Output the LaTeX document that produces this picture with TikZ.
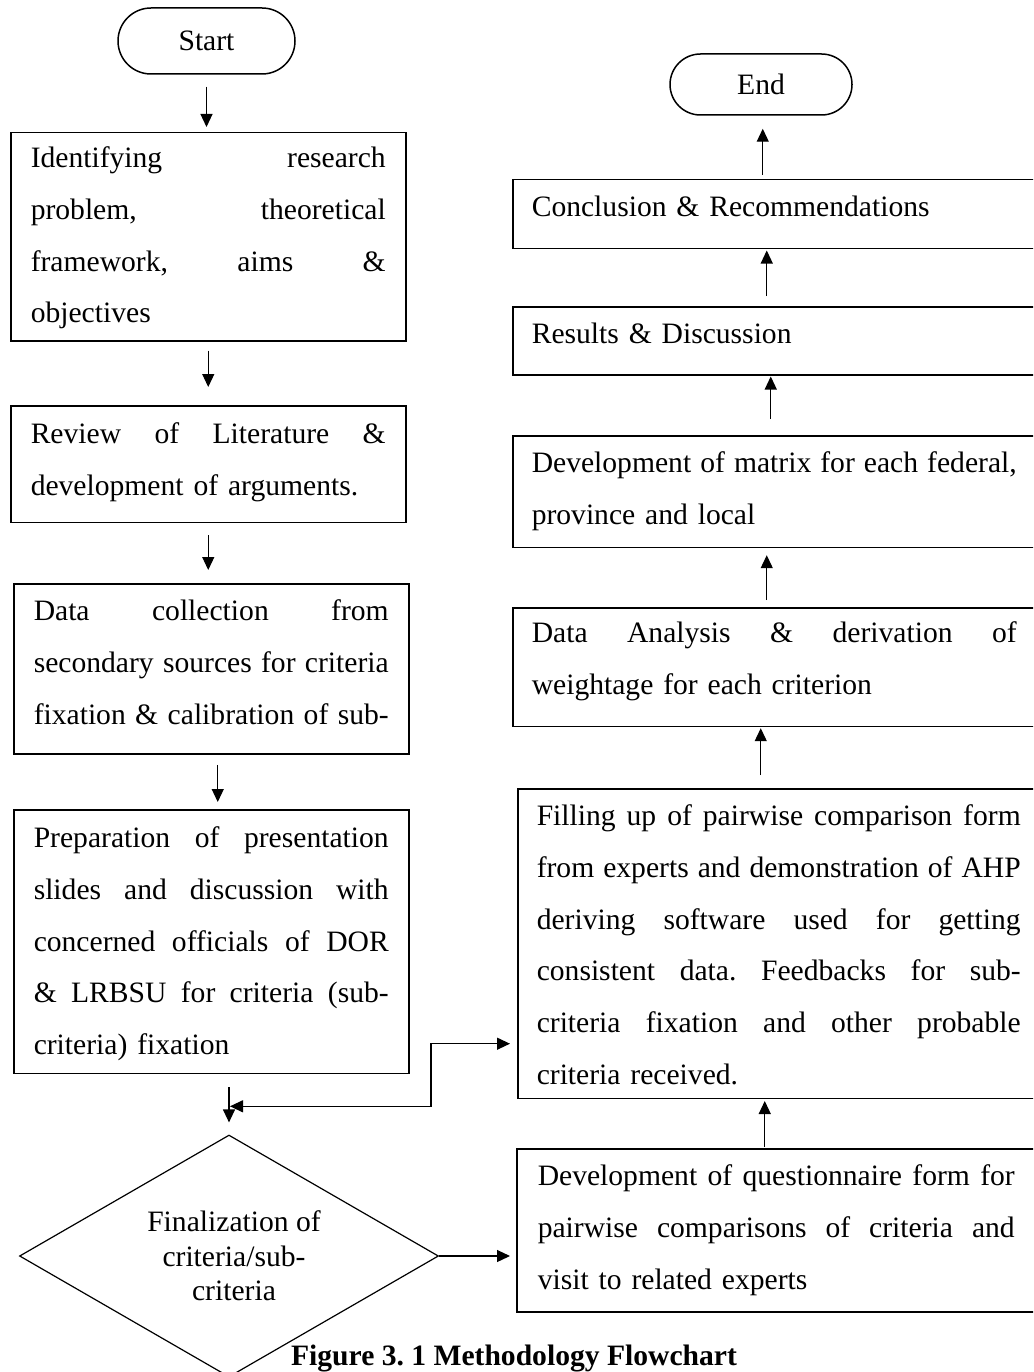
\documentclass[tikz,border=0pt]{standalone}
\usepackage{fontspec}
\setmainfont{Liberation Serif}
\usetikzlibrary{arrows.meta,shapes.geometric}
\setlength{\parindent}{0pt}
\frenchspacing
\newcommand\J[2]{\makebox[#1][s]{\spaceskip=0.25em plus 1fil minus 0.1em\relax #2}}
\newcommand\TS[1]{\rule{0pt}{#1pt}}
\newcommand\BS[1]{\rule[-#1pt]{0pt}{#1pt}}
\begin{document}
\begin{tikzpicture}[x=1pt,y=-1pt,
  >={Triangle[length=13pt,width=12pt]},
  every node/.style={font=\fontsize{29.6}{51.7}\selectfont},
  box/.style={draw, line width=1.5pt, anchor=north west, inner ysep=0pt, align=left},
  term/.style={draw, line width=1.5pt, rounded corners=#1, inner sep=0pt},
  arr/.style={line width=1.2pt, ->},
  arr2/.style={line width=1.2pt, <->},
]
\useasboundingbox (0,0) rectangle (1033,1372);
\clip (0,0) rectangle (1033,1372);

% terminals
\node[term=33pt, minimum width=177pt, minimum height=66pt] (start) at (206.5,41) {Start};
\node[term=30.5pt, minimum width=182pt, minimum height=61pt] (end) at (761,84.5) {End};

% left column
\node[box, text width=355pt, inner xsep=20pt] (b1) at (10,132)
  {\TS{35}\J{355pt}{Identifying research}\\\J{355pt}{problem, theoretical}\\\J{355pt}{framework, aims \&}\\\mbox{objectives}\BS{18}};
\node[box, text width=355pt, inner xsep=20pt] (b2) at (10,405)
  {\TS{38}\J{355pt}{Review of Literature \&}\\\mbox{development of arguments.}\BS{27}};
\node[box, text width=355pt, inner xsep=20pt] (b3) at (13,583)
  {\TS{37}\J{355pt}{Data collection from}\\\J{355pt}{secondary sources for criteria}\\\J{355pt}{fixation \& calibration of sub-}\BS{30}};
\node[box, text width=355pt, inner xsep=20pt] (b4) at (13,809)
  {\TS{38}\J{355pt}{Preparation of presentation}\\\J{355pt}{slides and discussion with}\\\J{355pt}{concerned officials of DOR}\\\J{355pt}{\& LRBSU for criteria (sub-}\\\mbox{criteria) fixation}\BS{19}};

\node[draw, diamond, shape aspect=1.73, line width=1.2pt, minimum width=419pt, minimum height=242pt,
      inner sep=0pt, align=center, font=\fontsize{29.6}{34.5}\selectfont] (dia) at (229,1256)
  {\hspace*{10pt}Finalization of\\\hspace*{10pt}criteria/sub-\\\hspace*{10pt}criteria};

% right column
\node[box, text width=487pt, inner xsep=19pt] (concl) at (512,179)
  {\TS{37}\mbox{Conclusion \& Recommendations}\BS{32}};
\node[box, text width=487pt, inner xsep=19pt] (results) at (512,306)
  {\TS{37}\mbox{Results \& Discussion}\BS{31}};
\node[box, text width=487pt, inner xsep=19pt] (matrix) at (512,435)
  {\TS{37}\J{485pt}{Development of matrix for each federal,}\\\mbox{province and local}\BS{23}};
\node[box, text width=485pt, inner xsep=19pt] (data) at (512,607)
  {\TS{35}\J{485pt}{Data Analysis \& derivation of}\\\mbox{weightage for each criterion}\BS{32}};
\node[box, text width=484pt, inner xsep=19pt] (fill) at (517,788)
  {\TS{37}\J{484pt}{Filling up of pairwise comparison form}\\\J{484pt}{from experts and demonstration of AHP}\\\J{484pt}{deriving software used for getting}\\\J{484pt}{consistent data. Feedbacks for sub-}\\\J{484pt}{criteria fixation and other probable}\\\mbox{criteria received.}\BS{14}};
\node[box, text width=477pt, inner xsep=21pt] (devq) at (516,1148)
  {\TS{37}\J{477pt}{Development of questionnaire form for}\\\J{477pt}{pairwise comparisons of criteria and}\\\mbox{visit to related experts}\BS{23}};

% caption
\node[font=\fontsize{29.6}{36}\selectfont\bfseries, anchor=base] (cap) at (514,1365)
  {Figure 3. 1 Methodology Flowchart};

% left connectors
\draw[arr, shorten <=12pt, shorten >=5pt] (start.south) -- (start.south |- b1.north);
\draw[arr, shorten <=9pt, shorten >=18pt] (b1.south) -- (b1.south |- b2.north);
\draw[arr, shorten <=12pt, shorten >=13pt] (b2.south) -- (b2.south |- b3.north);
\draw[arr, shorten <=10pt, shorten >=7pt] ([xshift=6.5pt]b3.south) -- ([xshift=6.5pt]b3.south |- b4.north);
\draw[arr, shorten <=13pt, shorten >=12pt] (dia.north |- b4.south) -- (dia.north);

% right connectors (upward)
\draw[arr, shorten <=1pt, shorten >=2pt] ([xshift=-11.5pt]devq.north) -- ([xshift=-11.5pt]devq.north |- fill.south);
\draw[arr, shorten <=13pt, shorten >=1pt] ([xshift=-18pt]fill.north) -- ([xshift=-18pt]fill.north |- data.south);
\draw[arr, shorten <=7pt, shorten >=7pt] ([xshift=-7.5pt]data.north) -- ([xshift=-7.5pt]data.north |- matrix.south);
\draw[arr, shorten <=16pt, shorten >=1pt] ([xshift=-4.5pt]matrix.north) -- ([xshift=-4.5pt]matrix.north |- results.south);
\draw[arr, shorten <=10pt, shorten >=1pt] ([xshift=-8.5pt]results.north) -- ([xshift=-8.5pt]results.north |- concl.south);
\draw[arr, shorten <=4pt, shorten >=13pt] ([xshift=-12.5pt]concl.north) -- ([xshift=-12.5pt]concl.north |- end.south);

% diamond to questionnaire
\draw[arr, shorten >=6pt] (dia.east) -- (dia.east -| devq.west);

% feedback connector
\coordinate (fbL) at ([yshift=-32pt]dia.north |- b4.south);
\draw[arr2, shorten <=1pt, shorten >=7pt] (fbL) -- ++(202,0) |- ([yshift=-100.2pt]fill.west);
\end{tikzpicture}
\end{document}
